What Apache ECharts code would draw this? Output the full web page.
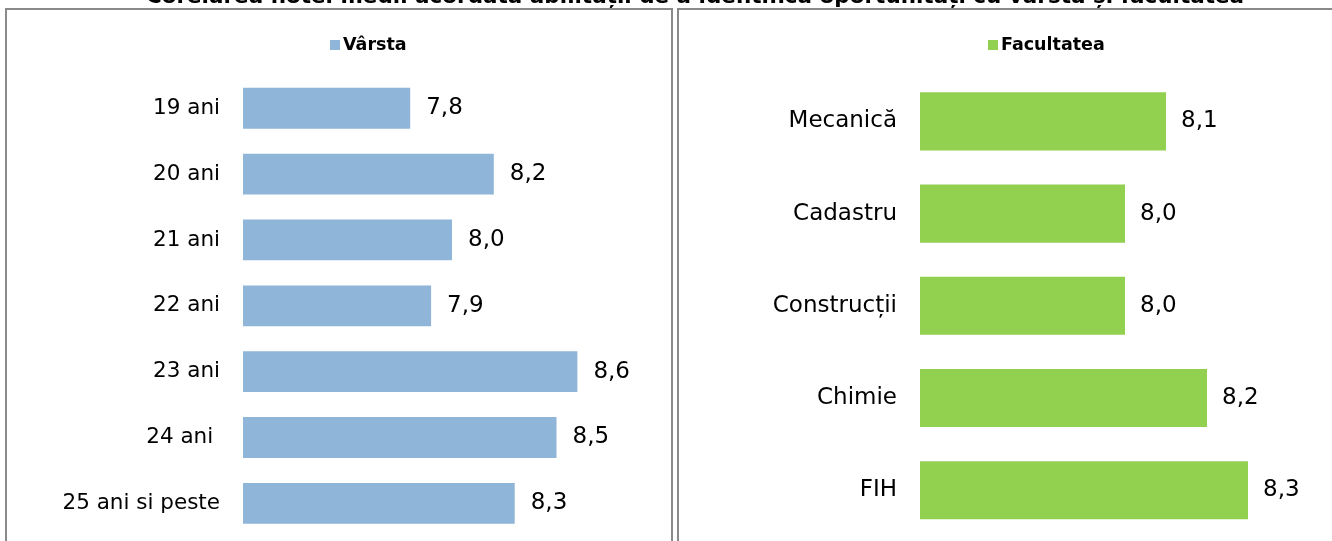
<!DOCTYPE html>
<html>
<head>
<meta charset="utf-8">
<script src="https://cdn.jsdelivr.net/npm/echarts@6/dist/echarts.min.js"></script>
<style>html,body{margin:0;padding:0;background:#fff;}#c{width:1332px;height:541px;}</style>
</head>
<body>
<div id="c"></div>
<script>
var titleText = 'Corelarea notei medii acordată abilității de a identifica oportunități cu vârsta și facultatea';
var ageName = 'Vârsta';
var ageCats = ['19 ani', '20 ani', '21 ani', '22 ani', '23 ani', '24 ani ', '25 ani si peste'];
var ageVals = [7.8, 8.2, 8.0, 7.9, 8.6, 8.5, 8.3];
var facName = 'Facultatea';
var facCats = ['Mecanică', 'Cadastru', 'Construcții', 'Chimie', 'FIH'];
var facVals = [8.1, 8.0, 8.0, 8.2, 8.3];

var FONT = 'DejaVu Sans';
function fmt(p) { return p.value.toFixed(1).replace('.', ','); }

var chart = echarts.init(document.getElementById('c'));
chart.setOption({
  animation: false,
  backgroundColor: '#fff',
  graphic: [
    { type: 'rect', shape: { x: 6, y: 9, width: 666, height: 545 }, style: { fill: 'none', stroke: '#8a8a8a', lineWidth: 2 } },
    { type: 'rect', shape: { x: 678, y: 9, width: 670, height: 545 }, style: { fill: 'none', stroke: '#8a8a8a', lineWidth: 2 } },
    { type: 'text', x: 695, y: 8, style: { text: titleText, fill: '#000', font: 'bold 21.5px "' + FONT + '"', textAlign: 'center', textVerticalAlign: 'bottom' } }
  ],
  legend: [
    { data: [ageName], left: 325, top: 31, itemWidth: 10, itemHeight: 10, itemGap: 4,
      textStyle: { fontFamily: FONT, fontWeight: 'bold', fontSize: 17.5, color: '#000', padding: [0,0,0,-2] }, icon: 'rect' },
    { data: [facName], left: 983, top: 31, itemWidth: 10, itemHeight: 10, itemGap: 4,
      textStyle: { fontFamily: FONT, fontWeight: 'bold', fontSize: 17.5, color: '#000', padding: [0,0,0,-2] }, icon: 'rect' }
  ],
  grid: [
    { left: 243, width: 418, top: 75.3, height: 461 },
    { left: 920, width: 410, top: 75.3, height: 461 }
  ],
  xAxis: [
    { gridIndex: 0, type: 'value', min: 7, max: 9, show: false },
    { gridIndex: 1, type: 'value', min: 7.5, max: 8.5, show: false }
  ],
  yAxis: [
    { gridIndex: 0, type: 'category', data: ageCats, inverse: true,
      axisLine: { show: false }, axisTick: { show: false },
      axisLabel: { margin: 23, color: '#000', fontFamily: FONT, fontSize: 21.5 } },
    { gridIndex: 1, type: 'category', data: facCats, inverse: true,
      axisLine: { show: false }, axisTick: { show: false },
      axisLabel: { margin: 23, color: '#000', fontFamily: FONT, fontSize: 23 } }
  ],
  series: [
    { name: ageName, type: 'bar', xAxisIndex: 0, yAxisIndex: 0, data: ageVals,
      barCategoryGap: '38%', itemStyle: { color: '#8fb6d8' },
      label: { show: true, position: 'right', distance: 16, formatter: fmt, color: '#000', fontFamily: FONT, fontSize: 23 } },
    { name: facName, type: 'bar', xAxisIndex: 1, yAxisIndex: 1, data: facVals,
      barCategoryGap: '37%', itemStyle: { color: '#92d050' },
      label: { show: true, position: 'right', distance: 15, formatter: fmt, color: '#000', fontFamily: FONT, fontSize: 23 } }
  ]
});
</script>
</body>
</html>
